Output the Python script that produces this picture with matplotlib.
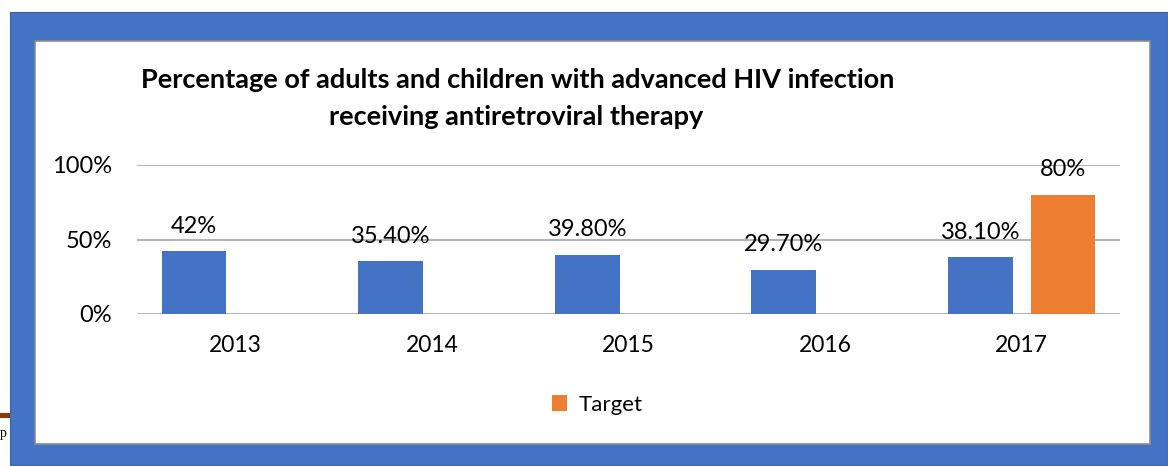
import matplotlib.pyplot as plt
import numpy as np
from matplotlib.patches import Rectangle

plt.rcParams['font.family'] = ['Lato', 'DejaVu Sans']

years = ['2013', '2014', '2015', '2016', '2017']
actual = [42, 35.4, 39.8, 29.7, 38.1]
actual_labels = ['42%', '35.40%', '39.80%', '29.70%', '38.10%']
target = [np.nan, np.nan, np.nan, np.nan, 80]
target_labels = ['', '', '', '', '80%']
yticks = [0, 50, 100]

W, H = 1168, 466
fig = plt.figure(figsize=(W / 100, H / 100), dpi=100)

def fx(px):
    return px / W

def fy(py):
    return 1 - py / H

# blue frame and white chart area
fig.patches.append(Rectangle((fx(10), fy(465)), fx(1158), (453) / H,
                             transform=fig.transFigure, facecolor='#4472C4',
                             edgecolor='#3A62A8', lw=0.8, zorder=0))
fig.patches.append(Rectangle((fx(35), fy(444)), fx(1115), (403) / H,
                             transform=fig.transFigure, facecolor='white',
                             edgecolor='#8C8C8C', lw=1.2, zorder=1))
# bits of the page behind
fig.patches.append(Rectangle((0, fy(418)), fx(10), 5 / H, transform=fig.transFigure,
                             facecolor='#8B3A0E', edgecolor='none', zorder=1))
fig.text(fx(0), fy(440), 'p', fontsize=10, family='Liberation Serif', va='bottom')

ax = fig.add_axes([fx(137), fy(314), fx(983), 149 / H])
ax.set_zorder(2)
ax.patch.set_visible(False)

x = np.arange(len(years))
w = 0.33
off = 0.21
ax.bar(x - off, actual, w, color='#4472C4')
ax.bar(x + off, target, w, color='#ED7D31', label='Target')

for xi, v, s in zip(x, actual, actual_labels):
    ax.annotate(s, (xi - off, v), xytext=(0, 18), textcoords='offset points',
                ha='center', va='center', fontsize=17)
for xi, v, s in zip(x, target, target_labels):
    if s:
        ax.annotate(s, (xi + off, v), xytext=(0, 18), textcoords='offset points',
                    ha='center', va='center', fontsize=17)

ax.set_xlim(-0.5, 4.5)
ax.set_ylim(0, 100)
ax.set_yticks(yticks)
ax.set_yticklabels([f'{t}%' for t in yticks], fontsize=17)
ax.set_xticks(x)
ax.set_xticklabels(years, fontsize=16.5)
ax.tick_params(length=0)
ax.tick_params(axis='y', pad=18)
ax.tick_params(axis='x', pad=15)
ax.yaxis.grid(True, color='#A6A6A6', lw=1.2)
ax.set_axisbelow(True)
for s in ['top', 'right', 'left', 'bottom']:
    ax.spines[s].set_visible(False)

fig.text(fx(518), fy(80), 'Percentage of adults and children with advanced HIV infection',
         ha='center', va='center', fontsize=19.5, fontweight='bold')
fig.text(fx(516), fy(117), 'receiving antiretroviral therapy',
         ha='center', va='center', fontsize=19.5, fontweight='bold')

fig.legend(loc='center', bbox_to_anchor=(fx(597), fy(405)), frameon=False,
           fontsize=16, handlelength=0.7, handleheight=0.7, handletextpad=0.5)

fig.savefig('out.png', dpi=100)
